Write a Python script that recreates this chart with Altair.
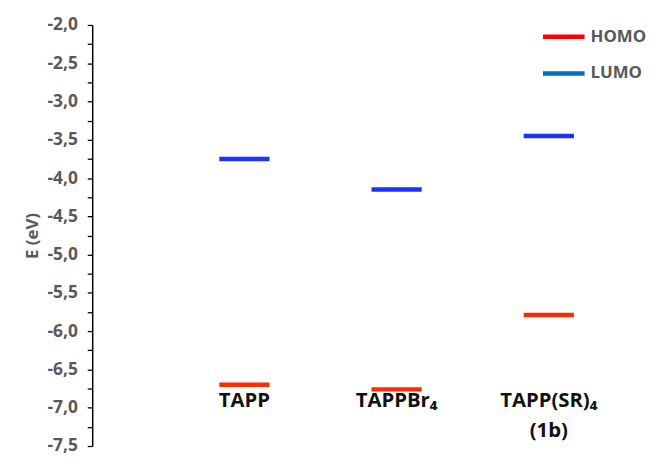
import altair as alt
import pandas as pd

compounds = ["TAPP", "TAPPBr₄", "TAPP(SR)₄"]
positions = [1, 2, 3]
homo = [-6.70, -6.76, -5.79]
lumo = [-3.75, -4.15, -3.45]
sublabels = ["", "", "(1b)"]
y_ticks = [-2.0 - 0.25 * i for i in range(23)]

half = 0.165
rows = []
for c, p, h, l in zip(compounds, positions, homo, lumo):
    rows.append({"compound": c, "x": p - half, "x2": p + half, "E": h, "level": "HOMO"})
    rows.append({"compound": c, "x": p - half, "x2": p + half, "E": l, "level": "LUMO"})
df = pd.DataFrame(rows)
lab = pd.DataFrame({"compound": compounds, "x": positions, "sub": sublabels})

xs = alt.Scale(domain=[0, 3.45], nice=False, zero=False)
ys = alt.Scale(domain=[-7.5, -2.0], nice=False, zero=False)

label_expr = ("(abs(datum.value*2 - round(datum.value*2)) > 0.001) ? '' : "
              "'-' + replace(format(abs(datum.value), '.1f'), '.', ',')")

FONT = "Open Sans"

levels = alt.Chart(df).mark_rule(strokeWidth=4.5).encode(
    x=alt.X("x:Q", scale=xs, axis=None),
    x2="x2:Q",
    y=alt.Y("E:Q", scale=ys, axis=alt.Axis(
        values=y_ticks, labelExpr=label_expr, title="E (eV)",
        grid=False, domainColor="#000000", domainWidth=1.5,
        tickColor="#000000", tickSize=5, tickWidth=1.3,
        labelFont=FONT, labelFontSize=17.5, labelFontWeight="bold",
        labelColor="#595959", labelPadding=10,
        titleFont=FONT, titleFontSize=17, titleFontWeight="bold",
        titleColor="#595959", titlePadding=6)),
    color=alt.Color("level:N", scale=alt.Scale(domain=["HOMO", "LUMO"], range=["#FF2A00", "#1A33FF"]), legend=None),
)

names = alt.Chart(lab).mark_text(font=FONT, fontSize=20.5, fontWeight="bold", color="#111111").encode(
    x=alt.X("x:Q", scale=xs), y=alt.value(380), text="compound:N")
subs = alt.Chart(lab).mark_text(font=FONT, fontSize=20.5, fontWeight="bold", color="#111111").encode(
    x=alt.X("x:Q", scale=xs), y=alt.value(410), text="sub:N")

leg = pd.DataFrame({"name": ["HOMO", "LUMO"], "col": ["#FF0000", "#0070C0"], "yy": [12, 49]})
leg_lines = alt.Chart(leg).mark_rule(strokeWidth=4.5).encode(
    x=alt.value(455), x2=alt.value(497), y=alt.Y("yy:Q", scale=None),
    color=alt.Color("col:N", scale=None))
leg_text = alt.Chart(leg).mark_text(align="left", font=FONT, fontSize=17, fontWeight="bold", color="#595959").encode(
    x=alt.value(503), y=alt.Y("yy:Q", scale=None), text="name:N")

chart = alt.layer(levels, names, subs, leg_lines, leg_text).properties(
    width=530, height=425,
    autosize=alt.AutoSizeParams(type="none"),
    padding={"left": 85, "top": 15, "right": 30, "bottom": 12},
).configure_view(stroke=None)

chart.save("out.html", embed_options={"renderer": "svg", "actions": False})
